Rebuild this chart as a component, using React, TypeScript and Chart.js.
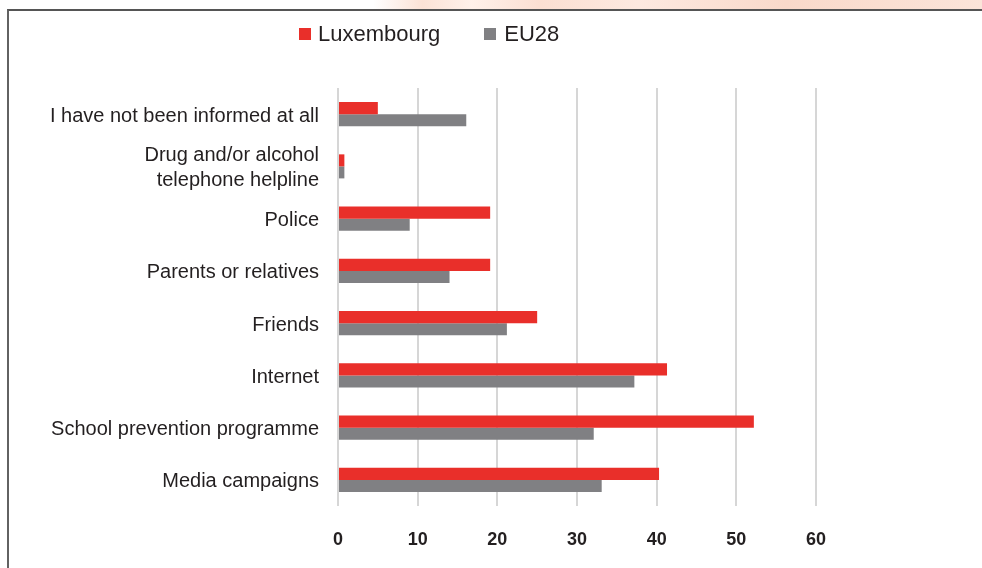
import React, { useEffect, useRef } from 'react';
import { Chart, registerables } from 'chart.js';

Chart.register(...registerables);

const categories: (string | string[])[] = [
  'I have not been informed at all',
  ['Drug and/or alcohol', 'telephone helpline'],
  'Police',
  'Parents or relatives',
  'Friends',
  'Internet',
  'School prevention programme',
  'Media campaigns',
];
const seriesNames = ['Luxembourg', 'EU28'];
const luxembourg = [5, 0.8, 19.1, 19.1, 25, 41.3, 52.2, 40.3];
const eu28 = [16.1, 0.8, 9, 14, 21.2, 37.2, 32.1, 33.1];
const xTickValues = [0, 10, 20, 30, 40, 50, 60];

const RED = '#e92f2a';
const GRAY = '#808083';
const TEXT = '#231f20';
const FONT = '"Liberation Sans", Arial, Helvetica, sans-serif';

export default function App() {
  const canvasRef = useRef<HTMLCanvasElement | null>(null);

  useEffect(() => {
    if (!canvasRef.current) return;
    const chart = new Chart(canvasRef.current, {
      type: 'bar',
      data: {
        labels: categories,
        datasets: [
          {
            label: seriesNames[0],
            data: luxembourg,
            backgroundColor: RED,
            borderWidth: 0,
            categoryPercentage: 0.46,
            barPercentage: 1,
          },
          {
            label: seriesNames[1],
            data: eu28,
            backgroundColor: GRAY,
            borderWidth: 0,
            categoryPercentage: 0.46,
            barPercentage: 1,
          },
        ],
      },
      options: {
        indexAxis: 'y',
        responsive: false,
        animation: false,
        layout: { padding: { top: 77, right: 35, bottom: 12, left: 0 } },
        plugins: {
          legend: { display: false },
          tooltip: { enabled: false },
        },
        scales: {
          x: {
            min: xTickValues[0],
            max: xTickValues[xTickValues.length - 1],
            afterBuildTicks: (scale: any) => {
              scale.ticks = xTickValues.map((v) => ({ value: v }));
            },
            afterFit: (scale: any) => {
              scale.height = 50;
            },
            grid: { color: '#d6d6d6', lineWidth: 2, drawTicks: false },
            border: { display: false },
            ticks: {
              padding: 23,
              color: TEXT,
              autoSkip: false,
              font: { family: FONT, size: 18, weight: 'bold' },
            },
          },
          y: {
            afterFit: (scale: any) => {
              scale.width = 329;
            },
            grid: { display: false, drawTicks: false },
            border: { display: false },
            ticks: {
              padding: 19,
              labelOffset: 2,
              color: TEXT,
              autoSkip: false,
              font: { family: FONT, size: 20, lineHeight: 1.25 },
            },
          },
        },
      },
    });
    return () => chart.destroy();
  }, []);

  return (
    <div
      style={{
        position: 'absolute',
        left: 0,
        top: 0,
        width: 982,
        height: 568,
        overflow: 'hidden',
        background: '#ffffff',
        fontFamily: FONT,
      }}
    >
      <div
        style={{
          position: 'absolute',
          left: 0,
          top: 0,
          width: 982,
          height: 10,
          background:
            'linear-gradient(90deg, #ffffff 0%, #ffffff 38%, #fbe2d6 43%, #fff1ea 48%, #fbdfd2 55%, #fde9e0 65%, #f9d9ca 80%, #fbe4d9 100%)',
        }}
      />
      <div
        style={{
          position: 'absolute',
          left: 7,
          top: 9,
          width: 982,
          height: 568,
          borderLeft: '2px solid #626262',
          borderTop: '2px solid #555555',
          background: '#ffffff',
        }}
      />
      <canvas
        ref={canvasRef}
        width={842}
        height={557}
        style={{ position: 'absolute', left: 9, top: 11, display: 'block' }}
      />
      <div
        style={{
          position: 'absolute',
          left: 299,
          top: 23,
          height: 22,
          display: 'flex',
          alignItems: 'center',
          fontSize: 22,
          lineHeight: '22px',
          color: TEXT,
          whiteSpace: 'nowrap',
        }}
      >
        <span style={{ width: 12, height: 12, background: RED, marginRight: 7, display: 'inline-block' }} />
        <span>{seriesNames[0]}</span>
        <span
          style={{ width: 12, height: 12, background: GRAY, marginLeft: 44, marginRight: 8, display: 'inline-block' }}
        />
        <span>{seriesNames[1]}</span>
      </div>
    </div>
  );
}
